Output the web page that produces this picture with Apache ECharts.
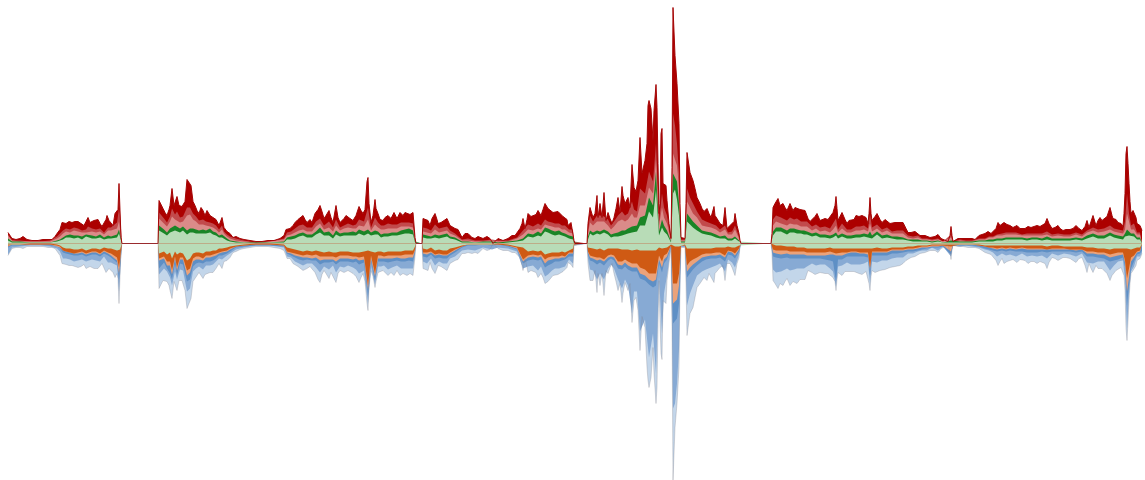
<!DOCTYPE html>
<html><head><meta charset="utf-8">
<style>html,body{margin:0;padding:0;background:#fff}#c{width:1145px;height:480px}</style>
<script src="https://cdn.jsdelivr.net/npm/echarts@6/dist/echarts.min.js"></script>
</head><body><div id="c"></div>
<script>
// outer silhouette, sampled along the time index
const edgeIdx=[8,10,12,16,20,23,27,32,38,43,48,52,55,57,60,62,64,66,69,72,75,78,81,84,86,88,90,92,94,96,98,100,102,104,106,107,109,111,113,115,117,118,119,120,121,122,
158,159,161,163,165,167,169,170,172,174,175,177,179,180,182,183,185,187,189,191,193,195,197,199,201,203,205,207,210,213,216,219,222,224,227,230,233,236,240,244,250,256,262,268,274,280,284,
286,287,290,293,295,298,300,303,305,307,310,312,315,318,320,322,324,326,329,331,333,336,338,340,342,344,346,348,350,353,356,359,361,363,365,367,368,369,371,373,375,376,378,380,383,385,388,391,394,397,400,403,405,407,410,413,414,415,416,
422,423,425,428,430,432,435,437,438,441,443,447,450,452,455,458,460,462,465,468,470,472,475,478,480,483,485,487,490,492,493,495,498,503,508,510,512,515,517,520,522,523,525,527,528,531,533,536,538,541,543,545,548,550,553,555,558,560,563,565,567,568,571,573,574,575,
587,588,590,593,595,597,598,600,602,604,606,608,610,612,614,616,618,620,622,623,625,628,630,632,634,636,637,638,640,642,645,647,648,649,651,653,654,656,657,658,659,660,661,662,663,666,667,669,671,672,673,675,677,679,680,681,685,686,687,690,693,695,697,700,702,704,707,709,711,714,715,717,720,723,725,727,730,732,734,735,737,739,740,741,
771,772,773,775,778,780,783,785,787,790,793,795,797,800,802,805,807,808,810,812,815,817,820,822,825,828,830,833,835,836,837,838,840,842,845,847,849,851,854,856,859,862,864,866,868,869,870,871,872,875,877,880,882,885,887,890,892,895,897,900,903,906,908,911,913,915,917,920,922,925,927,930,932,935,938,941,943,948,950,951,952,953,
955,958,960,963,965,968,972,975,977,979,982,985,988,991,993,996,998,1000,1002,1004,1007,1010,1013,1017,1020,1022,1025,1028,1031,1034,1037,1040,1042,1045,1047,1049,1052,1055,1058,1060,1063,1066,1070,1073,1076,1079,1082,1085,1087,1089,1091,1093,1096,1098,1100,1102,1104,1107,1110,1112,1113,1116,1118,1121,1123,1124,1125,1126,1127,1128,1129,1130,1131,1133,1134,1136,1137,1139,1140,1142];
const topEdge=[11,10,5,4,5,7,4,3,3,4,4,4,7,10,14,21,20,20,22,21,22,22,20,18,22,26,21,20,23,21,24,20,17,15,24,28,23,21,18,30,31,34,60,58,6,0,
0,43,41,35,31,28,34,38,55,38,40,47,38,36,37,38,42,64,62,58,42,38,33,30,36,33,28,33,28,26,24,18,26,16,12,10,6,7,5,4,3,2,2,3,3,5,8,
14,16,15,18,21,24,26,28,24,21,24,21,30,34,38,32,25,28,33,26,21,38,26,21,23,25,28,30,25,23,28,37,33,30,34,62,66,40,21,28,44,35,30,24,23,26,28,25,31,25,31,28,31,31,29,31,30,6,0,
0,25,24,23,18,25,30,24,20,21,23,25,18,17,15,14,13,6,10,10,8,6,5,7,8,5,6,7,5,6,0,2,5,3,5,6,8,8,10,15,20,25,15,24,30,27,26,29,33,28,34,40,35,35,31,30,32,30,27,26,24,18,21,22,3,0,
0,20,36,26,30,48,26,40,26,51,23,31,25,20,26,35,46,31,57,48,40,46,36,79,56,52,50,63,106,70,83,100,138,143,135,103,133,159,136,80,30,40,110,115,60,58,43,20,5,76,236,188,160,120,40,6,5,40,91,71,63,55,46,40,35,32,35,30,26,37,28,25,20,18,36,15,18,18,22,30,18,10,3,0,
0,10,36,40,45,38,40,36,33,40,33,36,38,34,35,33,31,25,22,23,27,30,23,24,25,24,23,31,38,47,35,23,25,31,24,20,23,21,24,28,27,28,29,26,20,30,46,30,23,27,30,24,21,24,25,20,18,21,23,21,21,15,11,11,10,12,13,8,6,8,8,6,5,7,9,5,3,2,8,17,8,2,
2,5,6,5,4,5,5,4,4,8,9,10,12,10,11,15,21,18,16,21,19,18,16,18,15,13,15,17,16,17,18,17,16,20,25,20,15,16,18,15,13,14,14,15,18,15,13,17,23,16,22,28,18,23,26,23,21,27,36,28,25,24,21,20,17,30,50,90,97,80,60,42,30,33,35,26,20,21,18,13];
const bottomEdge=[12,10,5,4,4,5,3,3,3,3,4,4,5,7,12,20,22,21,22,22,23,24,23,21,25,27,23,22,25,24,25,24,20,18,29,28,25,26,29,34,30,35,60,59,6,0,
0,45,44,37,36,38,42,47,55,38,41,47,37,35,37,38,47,65,64,55,38,36,32,29,32,35,31,31,29,29,25,20,25,18,17,14,9,8,6,5,4,3,3,3,4,5,7,
12,15,15,20,22,23,24,27,26,25,23,24,29,36,39,31,27,30,35,29,27,39,30,27,26,29,28,27,28,30,33,39,34,30,38,60,67,44,27,33,44,38,29,27,27,28,32,29,32,27,32,30,31,32,30,32,30,13,0,
0,25,26,27,19,25,30,25,22,23,25,27,20,19,17,16,15,10,10,9,10,10,9,10,10,5,6,7,6,7,0,2,5,7,7,7,9,9,10,14,22,27,15,24,29,27,27,29,34,30,34,40,38,37,32,30,31,30,28,27,24,19,21,24,2,0,
0,20,37,37,27,49,30,42,30,52,27,30,24,20,30,38,47,40,59,50,39,47,40,79,57,54,54,67,107,73,84,124,137,144,134,104,130,160,144,80,37,77,110,116,57,60,37,20,4,77,237,184,160,124,40,4,4,40,92,70,64,54,44,40,37,34,37,30,30,39,30,29,24,22,37,20,20,24,26,32,20,14,3,0,
0,10,37,40,45,40,42,38,35,42,38,38,40,36,35,36,35,27,26,29,31,32,29,28,30,30,30,34,38,47,36,29,29,32,28,27,28,29,28,30,30,31,31,28,27,40,47,33,27,29,29,27,27,26,25,24,22,23,22,22,20,17,15,14,14,13,12,10,9,9,9,7,5,7,9,5,4,2,8,16,6,2,
2,3,4,3,3,4,4,4,4,5,7,9,10,11,12,17,22,18,15,20,18,17,16,19,16,15,17,20,18,18,20,18,17,20,25,19,14,15,17,15,14,14,15,17,19,15,14,22,29,20,25,29,22,25,27,25,24,30,37,32,30,27,25,24,22,32,47,85,97,78,57,40,30,27,27,22,17,16,15,10];

// inner layer boundaries, one sub-list per burst of activity (gaps hold a single quiet sample)
const layerIdx=[
[8,10,12,20,30,40,50,57,60,63,66,70,74,78,82,86,88,92,96,100,104,108,111,113,117,119,120,122],[158],
[159,161,164,167,170,172,175,177,180,183,187,190,193,196,199,203,206,210,213,216,219,222,224,227,230,236,244,256,270,284],
[287,291,295,299,303,307,312,316,320,324,329,333,336,340,344,348,353,356,359,364,368,371,375,378,381,384,388,392,397,401,405,409,413,415,416],[422],
[423,427,431,435,439,443,447,450,455,462,468,475,483,492,498,508,517,523,528,533,538,541,545,548,552,555,559,562,565,569,573,574],[587],
[588,590,593,597,600,604,608,611,614,618,622,625,628,632,634,637,640,645,649,653,656,659,662,664,667,671,673,675,677,679,681,685,687,690,693,697,702,706,711,716,720,725,728,732,735,739,741],[771],
[772,773,776,778,781,783,787,790,794,797,801,804,807,812,816,820,825,830,833,836,838,842,847,851,856,860,864,868,870,872,877,882,887,892,897,903,908,913,918,922,927,932,938,943,951,953],
[960,966,972,979,985,989,993,997,1002,1006,1010,1016,1022,1027,1032,1037,1042,1047,1052,1058,1064,1070,1076,1082,1087,1093,1098,1104,1110,1114,1118,1123,1125,1127,1129,1131,1134,1137,1140,1142]];
const midRedEdge=[
[9,7,3,3,2,2,3,7,10,13,15,14,16,15,13,14,17,15,14,15,11,16,16,14,21,35,30,0],[0],
[31,30,25,21,27,35,29,32,26,27,36,36,30,27,23,24,22,21,20,18,14,18,12,9,7,5,3,1,2,5],
[11,12,15,18,19,16,16,22,25,18,22,16,24,16,18,20,18,19,24,22,36,16,26,21,18,18,20,19,19,21,21,21,20,4,0],[0],
[16,15,13,19,15,16,17,13,10,4,5,3,3,4,3,3,6,13,19,17,20,18,24,22,21,20,20,18,18,14,14,2],[0],
[14,28,22,28,28,27,24,18,22,28,32,28,30,42,34,32,55,50,72,62,100,22,50,36,28,4,130,118,100,70,4,4,55,46,40,32,24,22,20,18,14,18,11,12,18,7,0],[0],
[7,24,28,30,26,27,23,26,24,25,22,22,22,17,19,16,17,15,20,25,14,20,14,14,17,17,18,15,30,16,19,14,16,12,13,13,8,7,8,5,5,4,5,2,9,2],
[4,3,3,5,5,7,7,9,10,11,11,11,9,10,10,10,10,12,9,10,9,9,11,9,13,16,14,15,18,15,14,13,22,50,30,18,20,11,11,9]];
const paleRedEdge=[
[8,6,3,2,2,2,2,5,7,10,12,11,13,12,11,11,13,12,11,12,9,13,13,12,15,22,20,0],[0],
[25,24,20,17,22,27,24,26,21,22,28,29,24,22,19,19,18,17,16,14,11,14,10,7,5,3,2,1,2,4],
[8,9,11,13,14,12,12,17,20,14,16,12,18,13,15,16,15,15,18,17,24,13,19,16,14,14,15,15,15,17,17,17,16,3,0],[0],
[12,11,10,14,11,12,13,10,8,3,3,2,2,3,2,2,5,9,14,13,15,14,19,18,17,16,16,14,14,11,10,1],[0],
[10,21,18,22,22,22,18,14,17,22,24,22,24,30,26,26,38,38,56,50,84,18,36,26,20,3,90,88,78,55,3,3,42,36,30,26,18,17,16,14,11,14,9,9,14,5,0],[0],
[5,18,22,23,20,21,18,20,19,19,17,17,17,13,15,12,13,11,14,18,11,15,11,11,13,13,14,12,20,12,15,11,13,10,10,10,6,5,6,4,4,3,4,2,6,1],
[3,2,2,4,4,6,6,8,8,9,9,9,8,8,8,8,8,9,7,8,7,7,9,7,11,13,11,12,14,12,11,10,14,30,22,14,14,9,9,7]];
const darkGreenEdge=[
[5,4,2,2,1,1,1,3,4,6,8,9,8,8,7,9,10,8,7,9,6,8,7,6,9,14,12,0],[0],
[18,18,14,11,15,17,18,16,15,17,13,15,15,14,13,14,13,15,12,11,8,9,7,5,3,2,1,1,1,2],
[6,7,8,10,11,9,9,12,16,11,12,8,13,10,11,11,12,11,14,12,14,11,13,12,9,10,10,11,11,13,14,15,13,2,0],[0],
[9,8,7,9,8,9,10,7,6,2,2,1,2,2,1,2,3,5,10,9,12,10,16,15,13,12,13,11,10,8,7,1],[0],
[7,13,11,13,12,14,12,9,10,11,13,13,15,17,18,18,26,28,46,38,72,12,24,18,13,2,70,72,62,40,2,2,30,26,22,18,13,12,11,9,7,8,5,5,7,3,0],[0],
[3,12,16,18,16,16,13,15,15,14,13,13,12,10,11,9,9,8,9,11,8,10,8,8,9,9,10,9,12,8,12,8,9,7,7,6,4,4,4,3,3,2,3,1,3,1],
[2,2,2,3,3,4,4,5,5,6,6,6,6,5,6,6,5,7,5,5,5,5,6,5,8,10,8,8,11,9,8,7,10,14,12,10,10,6,6,5]];
const lightGreenEdge=[
[3,2,1,1,1,1,1,2,3,4,6,6,5,6,4,7,7,5,5,6,4,5,5,4,6,10,9,0],[0],
[13,14,10,8,11,13,13,12,11,13,9,11,11,10,10,10,10,11,9,8,6,6,5,3,2,1,1,0,1,1],
[4,4,5,7,8,6,6,9,11,8,8,5,9,7,8,8,8,8,10,8,10,8,9,9,6,7,7,8,8,9,10,10,9,1,0],[0],
[6,5,5,6,5,6,7,5,4,1,1,1,1,1,0,1,2,3,7,6,8,7,12,11,9,8,9,8,7,5,4,0],[0],
[4,10,8,10,9,11,9,6,7,7,8,9,10,11,12,12,18,18,32,26,54,8,16,12,9,1,50,54,44,28,1,1,22,19,16,13,10,9,8,6,5,5,3,3,5,2,0],[0],
[2,8,12,14,12,12,9,11,11,10,10,9,9,7,8,6,6,5,6,8,5,7,5,5,6,6,7,6,8,5,9,5,6,5,4,4,3,2,2,2,2,1,2,1,1,0],
[1,1,1,2,2,2,2,3,3,4,4,4,4,3,4,4,3,4,3,3,3,3,4,3,5,7,5,5,8,6,5,4,7,9,8,7,7,4,4,3]];
const greenDepth=[
[1,1,1,1,0,0,0,1,2,4,5,5,6,6,5,7,6,5,5,6,4,5,5,6,7,6,6,0],[0],
[10,9,8,11,9,15,8,11,9,10,17,15,10,9,9,10,8,8,7,7,5,5,5,4,3,2,1,0,0,1],
[4,5,6,7,8,7,8,7,8,9,8,9,9,8,8,8,9,9,9,8,7,8,9,8,8,9,8,8,8,8,7,7,7,3,0],[0],
[5,6,4,7,6,7,7,5,4,2,1,1,1,1,0,1,3,4,8,7,8,7,11,10,9,9,9,8,9,7,5,0],[0],
[4,5,5,6,5,7,5,5,5,5,6,6,6,7,6,6,7,7,7,7,7,4,5,5,4,1,2,3,3,3,1,1,5,5,5,5,5,5,5,4,4,4,3,4,4,2,0],[0],
[1,2,2,2,2,2,3,3,3,4,4,4,5,5,5,5,5,4,5,5,5,5,5,5,5,5,5,5,5,5,4,5,5,4,4,4,3,3,2,2,2,1,1,1,1,0],
[1,1,1,1,2,2,2,2,2,2,2,2,2,2,2,2,2,3,2,2,3,3,3,3,4,4,5,5,6,5,5,5,5,5,5,6,5,4,4,2]];
const orangeDepth=[
[2,2,1,1,1,1,1,2,3,7,8,9,10,9,8,10,11,8,8,10,7,9,10,12,14,24,22,0],[0],
[15,14,13,18,18,27,13,24,14,14,27,25,15,13,13,15,12,12,11,10,9,8,8,7,5,3,2,1,1,2],
[8,9,10,11,12,11,12,11,13,13,13,13,14,12,12,12,13,13,14,13,42,12,30,12,12,13,12,12,12,12,11,11,11,6,0],[0],
[9,9,8,11,10,11,11,9,6,3,1,1,1,1,1,2,4,16,12,11,12,11,16,14,13,13,13,12,13,9,9,1],[0],
[8,12,13,14,14,16,12,11,12,18,18,16,18,20,20,20,24,26,30,30,30,12,18,12,10,2,40,42,40,30,2,2,22,18,16,14,11,10,10,9,9,12,7,8,10,5,0],[0],
[3,6,7,7,7,7,7,8,8,8,8,8,9,9,9,9,9,8,9,10,9,9,9,8,8,9,9,9,24,8,8,8,8,6,6,6,5,5,4,3,3,2,2,2,3,1],
[1,1,1,2,3,4,4,5,4,5,4,5,4,5,5,5,5,6,5,5,5,6,6,6,8,8,9,9,11,10,9,9,17,35,25,14,12,8,7,5]];
const paleOrangeDepth=[
[3,3,1,1,1,1,1,3,4,7,8,9,10,10,9,11,12,9,9,11,8,10,12,14,17,30,28,0],[0],
[17,17,15,22,22,31,15,27,16,16,32,29,18,16,16,17,14,14,13,12,10,9,9,8,6,3,2,1,1,2],
[9,10,12,13,14,14,15,14,17,16,16,16,18,15,15,15,16,15,17,16,46,15,33,15,15,15,15,15,14,15,15,14,14,7,0],[0],
[10,11,9,12,11,12,12,10,7,3,1,1,1,1,1,2,5,18,14,13,14,13,20,17,16,15,15,14,14,10,10,1],[0],
[9,14,15,17,16,18,14,13,14,21,22,19,22,24,24,24,30,32,36,38,36,16,24,16,13,2,60,60,56,42,2,2,28,24,21,18,14,13,12,12,11,14,8,9,12,6,0],[0],
[4,9,10,11,11,10,10,11,11,11,11,11,12,12,12,12,12,11,11,12,11,12,10,9,9,10,10,11,26,9,9,9,9,7,7,7,6,6,5,4,4,3,3,2,8,1],
[1,1,1,2,3,4,5,6,5,6,5,6,5,6,6,6,6,6,6,6,6,6,7,6,10,10,11,11,14,13,12,11,19,48,34,18,14,9,8,6]];
const darkBlueDepth=[
[4,4,2,2,1,1,2,3,5,9,10,11,12,12,11,13,14,11,11,13,10,12,14,16,19,36,34,0],[0],
[25,24,19,25,30,36,20,32,20,21,38,36,23,20,19,20,18,18,17,15,12,12,11,10,8,4,3,2,2,3],
[10,12,14,16,17,16,17,17,21,19,19,18,21,18,18,18,19,18,21,19,52,18,37,18,18,18,19,18,17,18,18,17,18,8,0],[0],
[13,14,11,15,14,15,15,12,9,4,2,2,1,2,1,3,6,20,17,16,17,16,24,22,20,18,18,17,16,13,13,1],[0],
[11,17,18,21,19,22,17,15,17,25,26,23,26,28,28,28,35,37,41,44,42,20,29,20,16,3,80,80,75,60,3,3,34,30,26,22,18,16,15,15,14,18,11,12,15,8,0],[0],
[6,13,14,15,15,14,14,15,15,15,15,15,15,15,15,15,16,17,18,38,16,16,13,13,13,13,13,14,32,12,12,12,12,10,10,9,8,8,7,6,5,4,4,3,11,1],
[2,2,2,3,5,6,7,8,7,8,7,8,8,9,9,9,8,9,8,8,8,8,9,8,13,13,14,15,18,17,16,14,23,62,42,25,18,11,10,7]];
const midBlueDepth=[
[11,8,4,3,2,2,3,5,8,15,15,16,18,17,16,18,19,16,17,18,13,19,19,21,22,48,46,0],[0],
[31,30,25,28,34,42,28,36,26,27,48,45,28,25,23,26,22,22,21,18,15,16,14,12,10,6,4,2,2,4],
[13,14,18,20,22,20,20,24,29,23,26,22,29,23,24,22,24,26,30,27,60,23,41,23,23,22,26,24,22,25,25,25,25,11,0],[0],
[18,20,15,22,18,20,20,15,13,7,6,7,4,6,4,5,8,25,23,22,27,23,33,31,27,25,25,24,23,16,20,2],[0],
[15,26,27,36,30,36,25,21,25,36,45,36,42,70,48,48,88,76,114,90,130,33,90,50,32,3,165,160,140,105,3,3,62,50,42,32,28,26,24,22,20,28,16,19,24,11,0],[0],
[8,26,29,30,28,28,25,27,26,25,25,25,23,20,22,21,21,25,28,43,23,22,19,21,21,21,20,18,40,18,19,17,17,15,14,14,10,10,8,7,7,4,7,3,13,2],
[3,2,3,4,6,7,9,13,10,12,11,13,10,13,12,13,12,15,10,12,10,11,13,10,19,20,18,18,27,22,18,17,36,85,50,28,23,13,13,9]];

const layerLists={midRedEdge,paleRedEdge,darkGreenEdge,lightGreenEdge,greenDepth,orangeDepth,paleOrangeDepth,darkBlueDepth,midBlueDepth};
for(const [k,v] of Object.entries(layerLists)) v.forEach((seg,i)=>{ if(seg.length!==layerIdx[i].length) throw new Error(k+' seg '+i+' has '+seg.length+' want '+layerIdx[i].length); });
if(edgeIdx.length!==topEdge.length||edgeIdx.length!==bottomEdge.length) throw new Error('edge '+edgeIdx.length+' '+topEdge.length+' '+bottomEdge.length);

const xs=layerIdx.flat();
const pairs=(xl,ys,sign)=>xl.map((x,i)=>[x,sign*ys[i]]);
const band=(name,xl,ys,sign,color,line)=>({
  name,type:'line',data:pairs(xl,ys,sign),showSymbol:false,symbol:'none',silent:true,
  areaStyle:{color,opacity:1},
  lineStyle:line||{width:0},
  emphasis:{disabled:true}
});
const chart=echarts.init(document.getElementById('c'),null,{renderer:'canvas'});
chart.setOption({
  animation:false,
  backgroundColor:'#fff',
  grid:{left:8,right:3,top:0,bottom:0},
  xAxis:{type:'value',min:8,max:1142,show:false},
  yAxis:{type:'value',min:-236.5,max:243.5,show:false},
  tooltip:{show:false},
  series:[
    band('dark red',edgeIdx,topEdge,1,'#AC0000',{width:1,color:'#A50606'}),
    band('mid red',xs,midRedEdge.flat(),1,'#C24A4C'),
    band('pale red',xs,paleRedEdge.flat(),1,'#DB8B89'),
    band('dark green',xs,darkGreenEdge.flat(),1,'#1A8526'),
    band('light green',xs,lightGreenEdge.flat(),1,'#B8DCB7'),
    band('pale blue',edgeIdx,bottomEdge,-1,'#C3D6EA',{width:1,color:'rgba(130,130,140,0.3)'}),
    band('mid blue',xs,midBlueDepth.flat(),-1,'#87AAD4'),
    band('dark blue',xs,darkBlueDepth.flat(),-1,'#5E8FC5'),
    band('pale orange',xs,paleOrangeDepth.flat(),-1,'#EBA27A'),
    band('orange',xs,orangeDepth.flat(),-1,'#CF5A14'),
    band('green below',xs,greenDepth.flat(),-1,'#B8DCB7')
  ]
});
</script></body></html>
